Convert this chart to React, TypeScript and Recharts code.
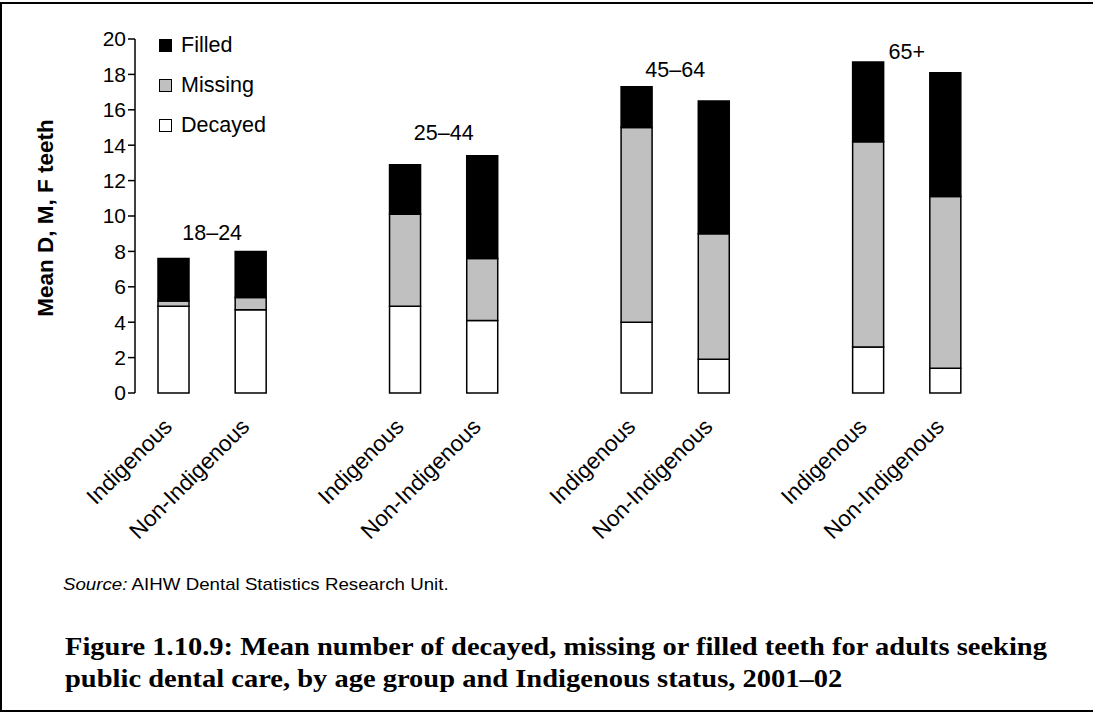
import React from 'react';
import { BarChart, Bar, XAxis, YAxis, ReferenceDot } from 'recharts';

const ageGroups = ['18–24', '25–44', '45–64', '65+'];
const statuses = ['Indigenous', 'Non-Indigenous'];
const decayed = [4.9, 4.7, 4.9, 4.1, 4.0, 1.9, 2.6, 1.4];
const missing = [0.3, 0.7, 5.2, 3.5, 11.0, 7.1, 11.6, 9.7];
const filled = [2.4, 2.6, 2.8, 5.8, 2.3, 7.5, 4.5, 7.0];
const groupLabelY = [9.1, 14.7, 18.3, 19.3];
const yTicks = [0, 2, 4, 6, 8, 10, 12, 14, 16, 18, 20];
const seriesNames = ['Decayed', 'Missing', 'Filled'];
const seriesColors = ['#ffffff', '#c0c0c0', '#000000'];

type Row = { key: string; label: string; Decayed?: number; Missing?: number; Filled?: number };
const rows: Row[] = [];
ageGroups.forEach((g, gi) => {
  statuses.forEach((s, si) => {
    const i = gi * 2 + si;
    rows.push({ key: `${g} ${s}`, label: s, Decayed: decayed[i], Missing: missing[i], Filled: filled[i] });
  });
  if (gi < ageGroups.length - 1) rows.push({ key: `gap${gi}`, label: '' });
});
const boundaryTicks = rows.map((_, i) => i).concat([rows.length]);
const labelMap: Record<string, string> = {};
rows.forEach((r) => (labelMap[r.key] = r.label));

const FONT = '"Liberation Sans", Arial, sans-serif';

const XTick = (props: any) => {
  const { x, y, payload } = props;
  const text = labelMap[payload.value] || '';
  const px = x;
  const py = y + 27;
  return (
    <text x={px} y={py} transform={`rotate(-45 ${px} ${py})`} textAnchor="end" fontFamily={FONT} fontSize={22.5} fill="#000">
      {text}
    </text>
  );
};

export default function App() {
  return (
    <div style={{ position: 'absolute', left: 0, top: 0, width: 1093, height: 713, background: '#fff', fontFamily: FONT }}>
      <div
        style={{
          position: 'absolute', left: 0, top: 2, width: 1093, height: 710, boxSizing: 'border-box',
          borderTop: '2px solid #000', borderLeft: '2px solid #000', borderBottom: '2px solid #000',
        }}
      />
      <div style={{ position: 'absolute', left: 0, top: 0 }}>
        <BarChart width={1093} height={560} data={rows} margin={{ top: 39, right: 109, left: 0, bottom: 0 }} barSize={31}>
          <XAxis
            xAxisId="num" type="number" dataKey={() => 0} domain={[0, rows.length]} ticks={boundaryTicks}
            allowDataOverflow height={0} tickFormatter={() => ''} tickSize={7}
            axisLine={{ stroke: '#000', strokeWidth: 1.5 }} tickLine={{ stroke: '#000', strokeWidth: 1.5 }}
          />
          <XAxis
            xAxisId="cat" dataKey="key" interval={0} height={167} axisLine={false} tickLine={false} tick={<XTick />}
          />
          <YAxis
            width={135} domain={[0, 20]} ticks={yTicks} interval={0} tickSize={7}
            axisLine={{ stroke: '#000', strokeWidth: 1.5 }} tickLine={{ stroke: '#000', strokeWidth: 1.5 }}
            tick={{ fill: '#000', fontSize: 21, fontFamily: FONT }}
            label={{
              content: () => (
                <text x={45} y={218} transform="rotate(-90 45 218)" textAnchor="middle" dominantBaseline="central"
                  fontFamily={FONT} fontWeight="bold" fontSize={22.5} fill="#000">
                  Mean D, M, F teeth
                </text>
              ),
            }}
          />
          {seriesNames.map((n, i) => (
            <Bar key={n} xAxisId="cat" dataKey={n} stackId="a" fill={seriesColors[i]} stroke="#000" strokeWidth={1.5} isAnimationActive={false} />
          ))}
          {ageGroups.map((g, gi) => (
            <ReferenceDot
              key={g} xAxisId="num" x={gi * 3 + 1} y={groupLabelY[gi]} r={0} fill="none" stroke="none"
              label={{ value: g, position: 'center', fontSize: 21.5, fill: '#000', fontFamily: FONT }}
            />
          ))}
        </BarChart>
      </div>
      <div style={{ position: 'absolute', left: 159, top: 25 }}>
        {[...seriesNames].reverse().map((n) => {
          const i = seriesNames.indexOf(n);
          return (
            <div key={n} style={{ display: 'flex', alignItems: 'center', height: 40, fontSize: 21.5, color: '#000' }}>
              <span style={{ width: 11, height: 11, border: '1.5px solid #000', background: seriesColors[i], display: 'inline-block', marginRight: 9 }} />
              {n}
            </div>
          );
        })}
      </div>
      <div
        style={{
          position: 'absolute', left: 63, top: 575, fontSize: 17, color: '#000', whiteSpace: 'nowrap',
          transform: 'scaleX(1.1)', transformOrigin: 'left center',
        }}
      >
        <i>Source:</i> AIHW Dental Statistics Research Unit.
      </div>
      <div
        style={{
          position: 'absolute', left: 65, top: 631, fontFamily: '"Liberation Serif", "DejaVu Serif", serif',
          fontWeight: 'bold', fontSize: 25, lineHeight: '32px', color: '#000', whiteSpace: 'nowrap',
          transform: 'scaleX(1.14)', transformOrigin: 'left center',
        }}
      >
        <div>Figure 1.10.9: Mean number of decayed, missing or filled teeth for adults seeking</div>
        <div>public dental care, by age group and Indigenous status, 2001–02</div>
      </div>
    </div>
  );
}
